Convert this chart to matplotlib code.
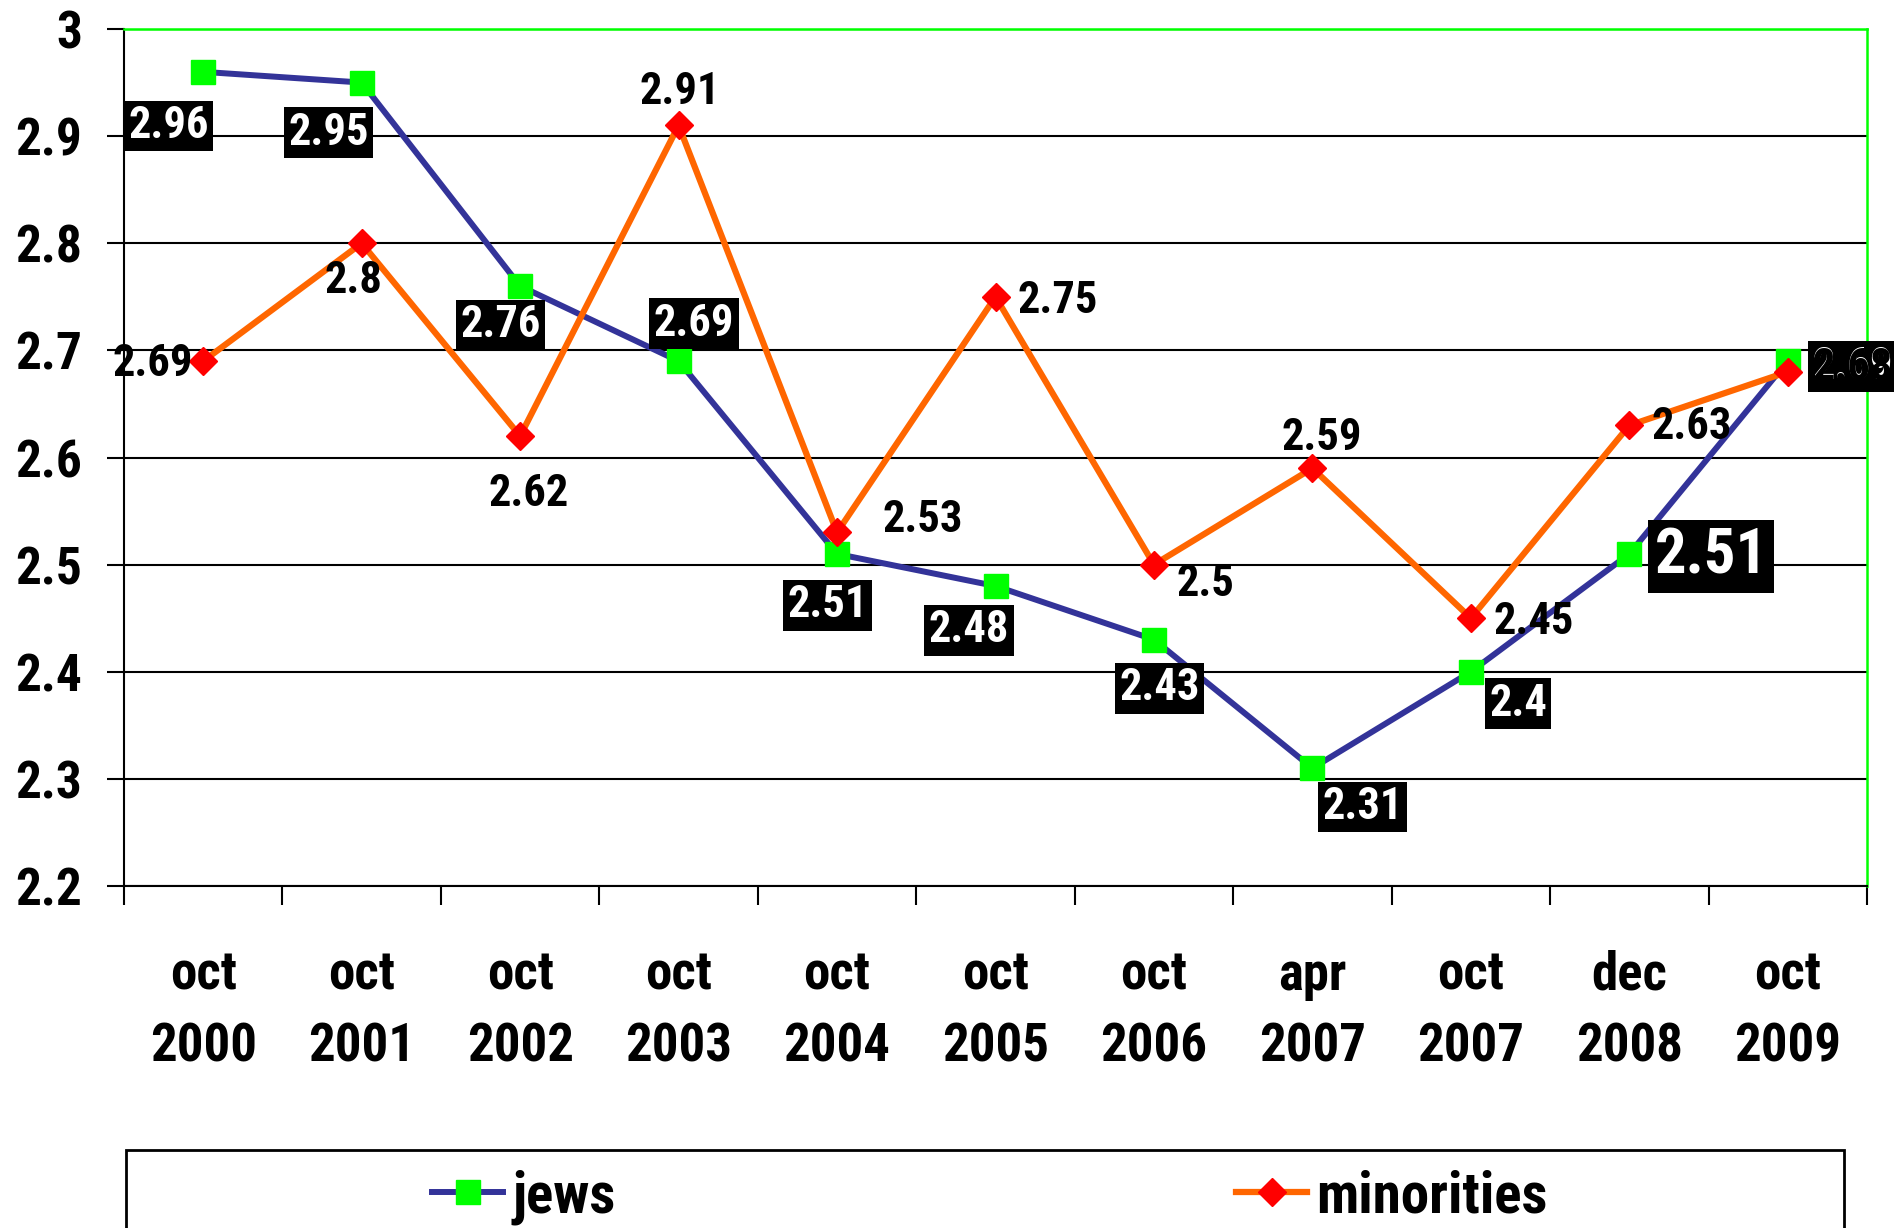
import numpy as np
import matplotlib
matplotlib.use("Agg")
import matplotlib.pyplot as plt
from matplotlib import font_manager as fm
from matplotlib.lines import Line2D
from matplotlib.patches import Rectangle

names = {f.name for f in fm.fontManager.ttflist}
FONT = 'Liberation Sans'
for cand in ['Liberation Sans Narrow', 'Arial Narrow', 'Roboto Condensed']:
    if cand in names:
        FONT = cand
        break
plt.rcParams['font.family'] = [FONT, 'Liberation Sans', 'DejaVu Sans']
plt.rcParams['font.weight'] = 'bold'

categories = ["oct\n2000", "oct\n2001", "oct\n2002", "oct\n2003", "oct\n2004", "oct\n2005",
              "oct\n2006", "apr\n2007", "oct\n2007", "dec\n2008", "oct\n2009"]
jews = [2.96, 2.95, 2.76, 2.69, 2.51, 2.48, 2.43, 2.31, 2.40, 2.51, 2.69]
minorities = [2.69, 2.80, 2.62, 2.91, 2.53, 2.75, 2.50, 2.59, 2.45, 2.63, 2.68]
jews_labels = ["2.96", "2.95", "2.76", "2.69", "2.51", "2.48", "2.43", "2.31", "2.4", "2.51", "2.69"]
min_labels = ["2.69", "2.8", "2.62", "2.91", "2.53", "2.75", "2.5", "2.59", "2.45", "2.63", "2.68"]
yticks = [2.2, 2.3, 2.4, 2.5, 2.6, 2.7, 2.8, 2.9, 3.0]
ytick_labels = ["2.2", "2.3", "2.4", "2.5", "2.6", "2.7", "2.8", "2.9", "3"]

# label offsets in points (layout)
jews_off = [(-25, -39), (-24, -36), (-14, -28), (11, 27), (-7, -37), (-19, -32),
            (4, -35), (36, -28), (34, -23), (59, -2), (47, -4)]
jews_fs = [32, 32, 32, 32, 32, 32, 32, 32, 32, 45, 32]
min_off = [(-36, -2), (-6, -27), (6, -42), (1, 24), (62, 9), (45, -3),
           (37, -14), (7, 22), (45, -3), (45, -1), (47, 3)]

W, H = 1894, 1228
fig = plt.figure(figsize=(W / 100, H / 100), dpi=100)
x0, x1, y0, y1 = 124, 1867, 29, 886
ax = fig.add_axes([x0 / W, 1 - y1 / H, (x1 - x0) / W, (y1 - y0) / H])

x = np.arange(len(categories))
ax.plot(x, jews, color='#333399', lw=4.3, marker='s', ms=17, mfc='#00FF00', mec='#00FF00', zorder=3)
ax.plot(x, minorities, color='#FF6600', lw=4.5, marker='D', ms=14, mfc='#FF0000', mec='#FF0000', zorder=4)

for xi, v, t, off, fs in zip(x, jews, jews_labels, jews_off, jews_fs):
    ax.annotate(t, (xi, v), xytext=off, textcoords='offset points', ha='center', va='center',
                fontsize=fs, fontweight='bold', color='white', zorder=6, annotation_clip=False,
                bbox=dict(boxstyle='square,pad=0.1', fc='black', ec='none'))
for xi, v, t, off in zip(x, minorities, min_labels, min_off):
    ax.annotate(t, (xi, v), xytext=off, textcoords='offset points', ha='center', va='center',
                fontsize=32, fontweight='bold', color='black', zorder=7, annotation_clip=False)

ax.set_xlim(-0.5, 10.5)
ax.set_ylim(2.2, 3.0)
ax.set_yticks(yticks)
ax.set_yticklabels(ytick_labels, fontsize=37, fontweight='bold')
ax.set_xticks(x)
ax.set_xticklabels(categories, fontsize=38, fontweight='bold', linespacing=1.52)
ax.set_xticks(np.arange(-0.5, 11, 1), minor=True)
ax.tick_params(axis='x', which='major', length=0, pad=46)
ax.tick_params(axis='x', which='minor', length=13.7, width=1.5, direction='out', color='black')
ax.tick_params(axis='y', which='major', length=12, width=1.5, direction='out', pad=18, color='black')
ax.yaxis.grid(True, color='black', lw=1.5)
ax.set_axisbelow(True)
for s in ['top', 'right']:
    ax.spines[s].set_color('#00FF00')
    ax.spines[s].set_linewidth(1.8)
for s in ['left', 'bottom']:
    ax.spines[s].set_color('black')
    ax.spines[s].set_linewidth(1.5)

# legend
fig.patches.append(Rectangle((126 / W, -0.05), (1844 - 126) / W, 0.05 + 1 - 1150 / H,
                             transform=fig.transFigure, fill=False, ec='black', lw=2))
handles = [Line2D([], [], color='#333399', lw=4.3, marker='s', ms=17, mfc='#00FF00', mec='#00FF00'),
           Line2D([], [], color='#FF6600', lw=4.5, marker='D', ms=14, mfc='#FF0000', mec='#FF0000')]
fig.legend(handles, ['jews', 'minorities'], loc='center left', bbox_to_anchor=(432 / W, 1 - 1197 / H),
           ncol=2, frameon=False, prop={'weight': 'bold', 'size': 41},
           handlelength=1.25, handletextpad=0.16, columnspacing=10.9, borderpad=0, borderaxespad=0)

fig.savefig('out.png', dpi=100)
